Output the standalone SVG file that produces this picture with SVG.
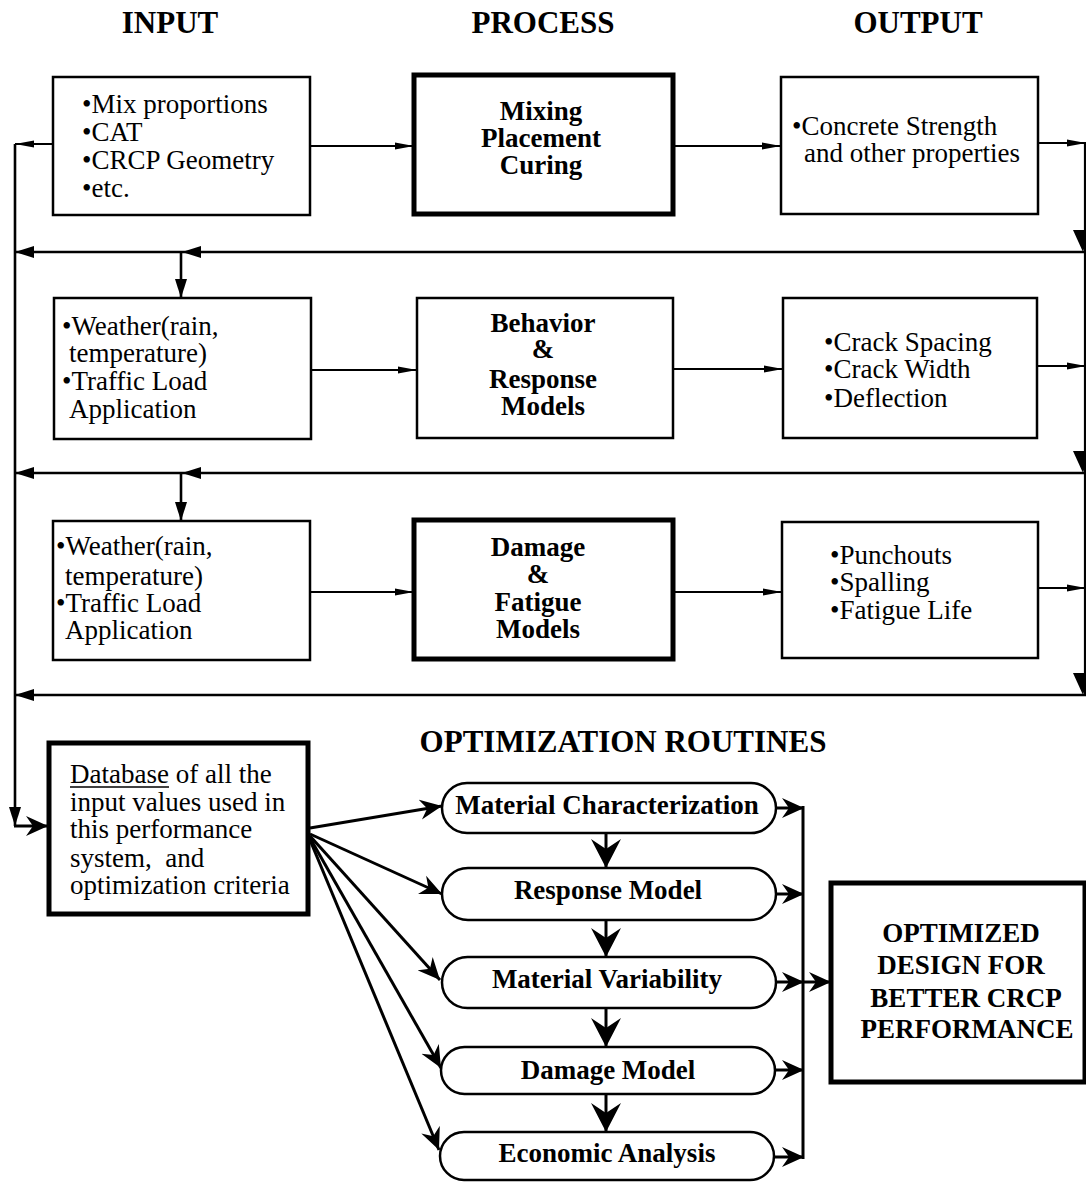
<svg xmlns="http://www.w3.org/2000/svg" width="1086" height="1183" viewBox="0 0 1086 1183">
  <style>
    .box { fill: #fff; stroke: #000; stroke-width: 2.5; }
    .thick { fill: #fff; stroke: #000; stroke-width: 5; }
    .pill { fill: #fff; stroke: #000; stroke-width: 2.5; }
    .t { font-family: "Liberation Serif", "Times New Roman", serif; font-size: 27px; fill: #000; white-space: pre; }
    .b { font-family: "Liberation Serif", "Times New Roman", serif; font-size: 27px; font-weight: bold; fill: #000; text-anchor: middle; }
    .h { font-family: "Liberation Serif", "Times New Roman", serif; font-size: 31px; font-weight: bold; fill: #000; text-anchor: middle; }
    .ln { fill: none; stroke: #000; stroke-width: 2.2; }
    .fb { fill: none; stroke: #000; stroke-width: 2.6; }
    .fan { fill: none; stroke: #000; stroke-width: 3; }
    .solid { fill: #000; stroke: none; }
  </style>
  <defs>
    <marker id="tri" markerUnits="userSpaceOnUse" markerWidth="20" markerHeight="10" refX="19" refY="5" orient="auto">
      <path d="M0,1.5 L19,5 L0,8.5 Z" fill="#000"/>
    </marker>
    <marker id="tri2" markerUnits="userSpaceOnUse" markerWidth="20" markerHeight="14" refX="19" refY="7" orient="auto">
      <path d="M0,1 L19,7 L0,13 Z" fill="#000"/>
    </marker>
    <marker id="barb" markerUnits="userSpaceOnUse" markerWidth="24" markerHeight="22" refX="22" refY="11" orient="auto">
      <path d="M0,1 L22,11 L0,21 L7,11 Z" fill="#000"/>
    </marker>
    <marker id="bigbarb" markerUnits="userSpaceOnUse" markerWidth="30" markerHeight="32" refX="29" refY="16" orient="auto">
      <path d="M0,1 L29,16 L0,31 L10,16 Z" fill="#000"/>
    </marker>
  </defs>

  <rect width="1086" height="1183" fill="#fff"/>

  <!-- column headers -->
  <text class="h" x="170" y="33">INPUT</text>
  <text class="h" x="543" y="33">PROCESS</text>
  <text class="h" x="918" y="33">OUTPUT</text>
  <text class="h" x="623" y="752">OPTIMIZATION ROUTINES</text>

  <g id="connectors">
    <!-- row 1 -->
    <line class="ln" x1="310" y1="146" x2="414" y2="146" marker-end="url(#tri)"/>
    <line class="ln" x1="675" y1="146" x2="781" y2="146" marker-end="url(#tri)"/>
    <line class="ln" x1="1038" y1="143" x2="1086" y2="143" marker-end="url(#tri)"/>
    <line class="ln" x1="53" y1="144" x2="15" y2="144" marker-end="url(#tri)"/>
    <!-- row 2 -->
    <line class="ln" x1="311" y1="370" x2="417" y2="370" marker-end="url(#tri)"/>
    <line class="ln" x1="673" y1="369" x2="783" y2="369" marker-end="url(#tri)"/>
    <line class="ln" x1="1037" y1="366" x2="1086" y2="366" marker-end="url(#tri)"/>
    <!-- row 3 -->
    <line class="ln" x1="310" y1="592" x2="414" y2="592" marker-end="url(#tri)"/>
    <line class="ln" x1="675" y1="592" x2="782" y2="592" marker-end="url(#tri)"/>
    <line class="ln" x1="1038" y1="588" x2="1086" y2="588" marker-end="url(#tri)"/>

    <!-- right return riser -->
    <line class="ln" x1="1085" y1="143" x2="1085" y2="695"/>
    <polygon class="solid" points="1073,230 1090,230 1083,252"/>
    <polygon class="solid" points="1073,451 1090,451 1083,473"/>
    <polygon class="solid" points="1073,673 1090,673 1083,695"/>

    <!-- feedback lines -->
    <line class="fb" x1="1086" y1="252" x2="182" y2="252" marker-end="url(#tri2)"/>
    <line class="fb" x1="182" y1="252" x2="15" y2="252" marker-end="url(#tri2)"/>
    <line class="fb" x1="181" y1="252" x2="181" y2="298" marker-end="url(#tri2)"/>
    <line class="fb" x1="1086" y1="473" x2="182" y2="473" marker-end="url(#tri2)"/>
    <line class="fb" x1="182" y1="473" x2="15" y2="473" marker-end="url(#tri2)"/>
    <line class="fb" x1="181" y1="473" x2="181" y2="521" marker-end="url(#tri2)"/>
    <line class="fb" x1="1086" y1="695" x2="15" y2="695" marker-end="url(#tri2)"/>

    <!-- left trunk into database -->
    <line class="fb" x1="15" y1="144" x2="15" y2="826" marker-end="url(#tri2)"/>
    <line class="fan" x1="14" y1="826" x2="48" y2="826" marker-end="url(#barb)"/>

    <!-- database fan-out -->
    <line class="fan" x1="310" y1="828" x2="442" y2="806" marker-end="url(#barb)"/>
    <line class="fan" x1="310" y1="834" x2="442" y2="894" marker-end="url(#barb)"/>
    <line class="fan" x1="310" y1="836" x2="440" y2="980" marker-end="url(#barb)"/>
    <line class="fan" x1="310" y1="838" x2="441" y2="1068" marker-end="url(#barb)"/>
    <line class="fan" x1="310" y1="840" x2="439" y2="1150" marker-end="url(#barb)"/>

    <!-- chain between routines -->
    <line class="fan" x1="606" y1="833" x2="606" y2="868" marker-end="url(#bigbarb)"/>
    <line class="fan" x1="606" y1="920" x2="606" y2="957" marker-end="url(#bigbarb)"/>
    <line class="fan" x1="606" y1="1008" x2="606" y2="1047" marker-end="url(#bigbarb)"/>
    <line class="fan" x1="606" y1="1094" x2="606" y2="1132" marker-end="url(#bigbarb)"/>

    <!-- routines to collector -->
    <line class="fan" x1="776" y1="808" x2="804" y2="808" marker-end="url(#barb)"/>
    <line class="fan" x1="776" y1="894" x2="804" y2="894" marker-end="url(#barb)"/>
    <line class="fan" x1="776" y1="982" x2="804" y2="982" marker-end="url(#barb)"/>
    <line class="fan" x1="775" y1="1070" x2="804" y2="1070" marker-end="url(#barb)"/>
    <line class="fan" x1="774" y1="1157" x2="804" y2="1157" marker-end="url(#barb)"/>
    <line class="fan" x1="803" y1="806" x2="803" y2="1159"/>
    <line class="fan" x1="803" y1="982" x2="831" y2="982" marker-end="url(#barb)"/>
  </g>

  <!-- row 1 -->
  <g id="input-materials">
    <rect class="box" x="53" y="77" width="257" height="138"/>
    <text class="t" x="82" y="113">•Mix proportions</text>
    <text class="t" x="82" y="141">•CAT</text>
    <text class="t" x="82" y="169">•CRCP Geometry</text>
    <text class="t" x="82" y="197">•etc.</text>
  </g>
  <g id="process-construction">
    <rect class="thick" x="414" y="75" width="259" height="139"/>
    <text class="b" x="541" y="120">Mixing</text>
    <text class="b" x="541" y="147">Placement</text>
    <text class="b" x="541" y="174">Curing</text>
  </g>
  <g id="output-strength">
    <rect class="box" x="781" y="77" width="257" height="137"/>
    <text class="t" x="792" y="135">•Concrete Strength</text>
    <text class="t" x="804" y="162">and other properties</text>
  </g>

  <!-- row 2 -->
  <g id="input-environment-1">
    <rect class="box" x="54" y="298" width="257" height="141"/>
    <text class="t" x="62" y="335">•Weather(rain,</text>
    <text class="t" x="69" y="362">temperature)</text>
    <text class="t" x="62" y="390">•Traffic Load</text>
    <text class="t" x="69" y="418">Application</text>
  </g>
  <g id="process-response">
    <rect class="box" x="417" y="298" width="256" height="140"/>
    <text class="b" x="543" y="332">Behavior</text>
    <text class="b" x="543" y="358">&amp;</text>
    <text class="b" x="543" y="388">Response</text>
    <text class="b" x="543" y="415">Models</text>
  </g>
  <g id="output-cracking">
    <rect class="box" x="783" y="298" width="254" height="140"/>
    <text class="t" x="824" y="351">•Crack Spacing</text>
    <text class="t" x="824" y="378">•Crack Width</text>
    <text class="t" x="824" y="407">•Deflection</text>
  </g>

  <!-- row 3 -->
  <g id="input-environment-2">
    <rect class="box" x="53" y="521" width="257" height="139"/>
    <text class="t" x="56" y="555">•Weather(rain,</text>
    <text class="t" x="65" y="585">temperature)</text>
    <text class="t" x="56" y="612">•Traffic Load</text>
    <text class="t" x="65" y="639">Application</text>
  </g>
  <g id="process-damage">
    <rect class="thick" x="414" y="520" width="259" height="139"/>
    <text class="b" x="538" y="556">Damage</text>
    <text class="b" x="538" y="583">&amp;</text>
    <text class="b" x="538" y="611">Fatigue</text>
    <text class="b" x="538" y="638">Models</text>
  </g>
  <g id="output-distress">
    <rect class="box" x="782" y="522" width="256" height="136"/>
    <text class="t" x="830" y="564">•Punchouts</text>
    <text class="t" x="830" y="591">•Spalling</text>
    <text class="t" x="830" y="619">•Fatigue Life</text>
  </g>

  <!-- database -->
  <g id="database">
    <rect class="thick" x="49" y="743" width="259" height="171"/>
    <text class="t" x="70" y="783">Database of all the</text>
    <line x1="70" y1="787" x2="169" y2="787" stroke="#000" stroke-width="1.5"/>
    <text class="t" x="70" y="811">input values used in</text>
    <text class="t" x="70" y="838">this performance</text>
    <text class="t" x="70" y="867" xml:space="preserve">system,  and</text>
    <text class="t" x="70" y="894">optimization criteria</text>
  </g>

  <!-- optimization routines -->
  <g id="material-characterization">
    <rect class="pill" x="442" y="783" width="334" height="50" rx="25"/>
    <text class="b" x="607" y="814">Material Characterization</text>
  </g>
  <g id="response-model">
    <rect class="pill" x="442" y="868" width="334" height="52" rx="26"/>
    <text class="b" x="608" y="899">Response Model</text>
  </g>
  <g id="material-variability">
    <rect class="pill" x="442" y="957" width="334" height="51" rx="25.5"/>
    <text class="b" x="607" y="988">Material Variability</text>
  </g>
  <g id="damage-model">
    <rect class="pill" x="441" y="1047" width="334" height="47" rx="23.5"/>
    <text class="b" x="608" y="1079">Damage Model</text>
  </g>
  <g id="economic-analysis">
    <rect class="pill" x="440" y="1132" width="334" height="48" rx="24"/>
    <text class="b" x="607" y="1162">Economic Analysis</text>
  </g>

  <!-- result -->
  <g id="optimized-design">
    <rect class="thick" x="831" y="883" width="254" height="199"/>
    <text class="b" x="961" y="942">OPTIMIZED</text>
    <text class="b" x="961" y="974">DESIGN FOR</text>
    <text class="b" x="966" y="1007">BETTER CRCP</text>
    <text class="b" x="967" y="1038">PERFORMANCE</text>
  </g>
</svg>
